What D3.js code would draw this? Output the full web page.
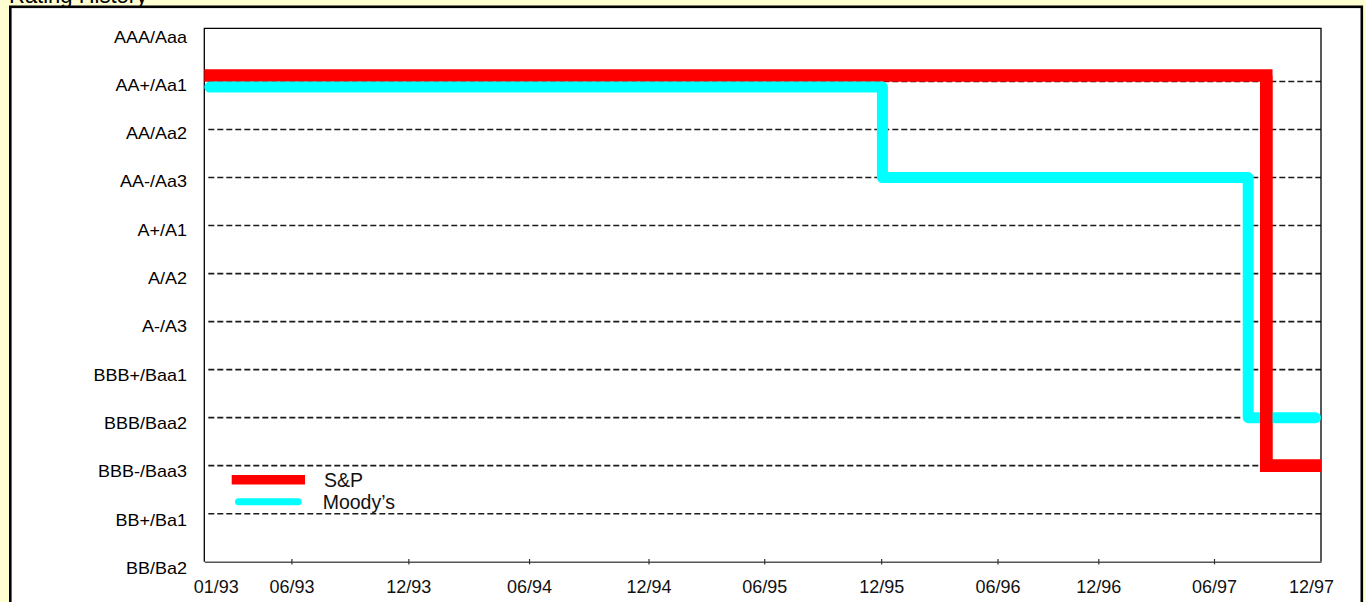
<!DOCTYPE html>
<html>
<head>
<meta charset="utf-8">
<script src="https://cdn.jsdelivr.net/npm/d3@7"></script>
<style>
  html, body { margin: 0; padding: 0; background: #FFFFD2; overflow: hidden; }
  svg { display: block; font-family: "Liberation Sans", Arial, sans-serif; }
</style>
</head>
<body>
<svg id="chart" width="1366" height="602"></svg>
<script>
// Rating scale, best at the top
const ratings = ["AAA/Aaa", "AA+/Aa1", "AA/Aa2", "AA-/Aa3", "A+/A1", "A/A2", "A-/A3",
                 "BBB+/Baa1", "BBB/Baa2", "BBB-/Baa3", "BB+/Ba1", "BB/Ba2"];

// Period covered
const periodStart = "1993-01-01";
const periodEnd = "1997-12-01";

// S&P rating changes
const spDates = ["1993-01-01", "1997-09-04"];
const spRatings = ["AA+/Aa1", "BBB-/Baa3"];

// Moody's rating changes
const moodysDates = ["1993-01-01", "1995-12-27", "1997-08-06"];
const moodysRatings = ["AA+/Aa1", "AA-/Aa3", "BBB/Baa2"];

// X axis ticks
const tickDates = ["1993-01-01", "1993-05-21", "1993-11-25", "1994-06-07", "1994-12-16",
                   "1995-06-20", "1995-12-25", "1996-06-29", "1996-12-08", "1997-06-12", "1997-12-01"];
const tickLabels = ["01/93", "06/93", "12/93", "06/94", "12/94", "06/95",
                    "12/95", "06/96", "12/96", "06/97", "12/97"];

const parse = d3.utcParse("%Y-%m-%d");
const svg = d3.select("#chart");

const plot = { left: 204.3, right: 1321, top: 28.3, bottom: 561.7 };

const x = d3.scaleUtc()
  .domain([parse(periodStart), parse(periodEnd)])
  .range([plot.left, plot.right]);

const y = d3.scalePoint()
  .domain(ratings)
  .range([33.5, plot.bottom]);

const yLabel = d3.scalePoint()
  .domain(ratings)
  .range([36.7, 568.3]);

// Panel
svg.append("text")
  .attr("x", 9).attr("y", 2.5)
  .attr("font-size", 22).attr("fill", "#000")
  .text("Rating History");

svg.append("rect")
  .attr("x", 10.3).attr("y", 6.8)
  .attr("width", 1351.5).attr("height", 640)
  .attr("fill", "#fff").attr("stroke", "#000").attr("stroke-width", 2.6);

// Horizontal dashed gridlines (between the top and bottom ratings)
svg.append("g")
  .selectAll("line")
  .data(ratings.slice(1, -1))
  .join("line")
  .attr("x1", plot.left + 4).attr("x2", plot.right)
  .attr("y1", d => y(d)).attr("y2", d => y(d))
  .attr("stroke", "#1a1a1a").attr("stroke-width", 1.6)
  .attr("stroke-dasharray", "6,3");

// Plot frame: left, top and right sides
svg.append("path")
  .attr("d", `M${plot.left},${plot.bottom}V${plot.top}H${plot.right}V${plot.bottom}`)
  .attr("fill", "none").attr("stroke", "#000").attr("stroke-width", 1.3);

// Y axis labels
svg.append("g")
  .selectAll("text")
  .data(ratings)
  .join("text")
  .attr("text-anchor", "end")
  .attr("font-size", 18)
  .attr("fill", "#000")
  .attr("transform", d => `translate(187,${yLabel(d) + 5.8}) scale(1,0.9)`)
  .text(d => d);

// X axis
const xAxis = d3.axisBottom(x)
  .tickValues(tickDates.map(parse))
  .tickSize(0)
  .tickFormat((d, i) => tickLabels[i]);

const gx = svg.append("g")
  .attr("transform", `translate(0,${plot.bottom})`)
  .call(xAxis);
gx.select(".domain").attr("stroke", "#555").attr("stroke-width", 1.5);
gx.selectAll(".tick line").remove();
gx.selectAll(".tick")
  .filter((d, i) => i > 0 && i < tickDates.length - 1)
  .append("line")
  .attr("y1", -2.7).attr("y2", 2.7)
  .attr("stroke", "#333").attr("stroke-width", 1.2);
gx.selectAll(".tick text")
  .attr("font-size", 18)
  .attr("font-family", "Liberation Sans, Arial, sans-serif")
  .attr("fill", "#111")
  .attr("y", 31).attr("dy", 0)
  .attr("dx", (d, i) => i === 0 ? 11.5 : (i === tickDates.length - 1 ? -10 : 0));

// Step series; where both agencies hold the same rating at a segment's start,
// S&P is nudged up and Moody's down so both stay visible.
function stepPoints(dates, values, other, nudge, inset) {
  const pts = [];
  const otherAt = t => {
    let r = other.values[0];
    other.dates.forEach((d, i) => { if (parse(d) <= t) r = other.values[i]; });
    return r;
  };
  dates.forEach((d, i) => {
    const t0 = parse(d);
    const t1 = i < dates.length - 1 ? parse(dates[i + 1]) : parse(periodEnd);
    const off = otherAt(t0) === values[i] ? nudge : 0;
    const yy = y(values[i]) + off;
    let x0 = x(t0), x1 = x(t1);
    if (i === 0) x0 += inset;
    if (i === dates.length - 1) x1 -= inset;
    pts.push([x0, yy], [x1, yy]);
  });
  return pts;
}

const line = d3.line();

svg.append("path")
  .attr("d", line(stepPoints(spDates, spRatings, { dates: moodysDates, values: moodysRatings }, -6, 0)))
  .attr("fill", "none").attr("stroke", "#FF0000")
  .attr("stroke-width", 12.5).attr("stroke-linejoin", "miter").attr("stroke-linecap", "butt");

svg.append("path")
  .attr("d", line(stepPoints(moodysDates, moodysRatings, { dates: spDates, values: spRatings }, 5.5, 5.5)))
  .attr("fill", "none").attr("stroke", "#00FFFF")
  .attr("stroke-width", 11).attr("stroke-linejoin", "round").attr("stroke-linecap", "round");

// Redraw S&P vertical drop on top where the lines cross
// (S&P is drawn first, Moody's over it; keep the S&P drop visible)
const spPts = stepPoints(spDates, spRatings, { dates: moodysDates, values: moodysRatings }, -6, 0);
svg.append("path")
  .attr("d", line(spPts.slice(1, 4)))
  .attr("fill", "none").attr("stroke", "#FF0000")
  .attr("stroke-width", 12.5).attr("stroke-linejoin", "miter").attr("stroke-linecap", "butt");

// Legend
const legend = svg.append("g");
legend.append("line")
  .attr("x1", 231.7).attr("x2", 305).attr("y1", 479.7).attr("y2", 479.7)
  .attr("stroke", "#FF0000").attr("stroke-width", 9.5);
legend.append("line")
  .attr("x1", 238.5).attr("x2", 298.2).attr("y1", 501.7).attr("y2", 501.7)
  .attr("stroke", "#00FFFF").attr("stroke-width", 7).attr("stroke-linecap", "round");
legend.append("text")
  .attr("x", 324).attr("y", 487.2).attr("font-size", 19.5).attr("fill", "#111")
  .text("S&P");
legend.append("text")
  .attr("x", 322.7).attr("y", 508.8).attr("font-size", 19.5).attr("fill", "#111")
  .text("Moody’s");
</script>
</body>
</html>
